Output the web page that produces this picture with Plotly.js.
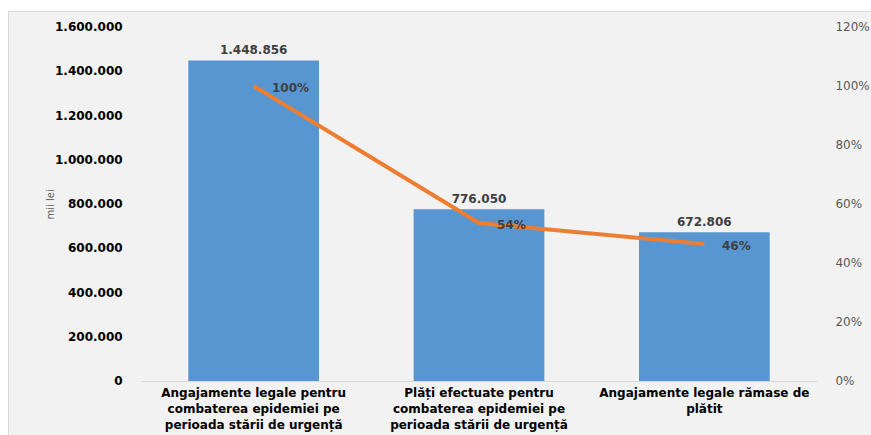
<!DOCTYPE html>
<html><head><meta charset="utf-8">
<script src="https://cdn.plot.ly/plotly-3.0.1.min.js"></script>
<style>
html,body{margin:0;padding:0;background:#fff;width:871px;height:435px;overflow:hidden;}
#chart{position:absolute;left:8px;top:11px;width:863px;height:424px;box-sizing:border-box;border-top:1px solid #d9d9d9;border-left:1px solid #d9d9d9;}
</style></head>
<body>
<div id="chart"></div>
<script>
const categories = [
  "Angajamente legale pentru<br>combaterea epidemiei pe<br>perioada stării de urgență",
  "Plăți efectuate pentru<br>combaterea epidemiei pe<br>perioada stării de urgență",
  "Angajamente legale rămase de<br>plătit"
];
const amounts = [1448856, 776050, 672806];
const shares = [1.0, 0.5356, 0.4644];
const shareLabels = ["100%", "54%", "46%"];
const leftTicks = [0, 200000, 400000, 600000, 800000, 1000000, 1200000, 1400000, 1600000];
const rightTicks = [0, 0.2, 0.4, 0.6, 0.8, 1.0, 1.2];

const font = "DejaVu Sans, Arial, sans-serif";

const bars = {
  type: "bar", x: categories, y: amounts, width: 0.58,
  marker: {color: "#5896d2", line: {width: 0}},
  texttemplate: "%{y:,d}", textposition: "outside", cliponaxis: false,
  textfont: {family: font, size: 12, color: "#404040", weight: "bold"},
  hoverinfo: "none"
};
const line = {
  type: "scatter", mode: "lines", x: categories, y: shares, yaxis: "y2",
  line: {color: "#ed7d31", width: 4}, hoverinfo: "none"
};

const annotations = shares.map((v, i) => ({
  x: categories[i], y: v, xref: "x", yref: "y2", text: "<b>" + shareLabels[i] + "</b>",
  showarrow: false, xanchor: "left", xshift: 16, yshift: -2,
  font: {family: font, size: 12, color: "#404040"}
}));
annotations.push({
  x: -0.145, y: 0.5, xref: "paper", yref: "paper", text: "mii lei", textangle: -90,
  showarrow: false, font: {family: font, size: 10, color: "#595959"}
});

const layout = {
  width: 863, height: 424,
  margin: {l: 132, r: 55, t: 15, b: 55},
  paper_bgcolor: "#f2f2f2", plot_bgcolor: "#f2f2f2",
  separators: ",.",
  showlegend: false,
  xaxis: {
    showline: true, linecolor: "#d9d9d9", linewidth: 1,
    ticks: "outside", ticklen: 1, tickcolor: "rgba(0,0,0,0)",
    tickfont: {family: font, size: 12, color: "#000", weight: "bold"},
    showgrid: false, zeroline: false
  },
  yaxis: {
    range: [0, 1600000], tickvals: leftTicks, tickformat: ",d",
    showgrid: false, zeroline: false, showline: false,
    ticks: "outside", ticklen: 15, tickcolor: "rgba(0,0,0,0)",
    tickfont: {family: font, size: 12, color: "#000", weight: "bold"}
  },
  yaxis2: {
    overlaying: "y", side: "right", range: [0, 1.2], tickvals: rightTicks, tickformat: ".0%",
    showgrid: false, zeroline: false, showline: false,
    ticks: "outside", ticklen: 15, tickcolor: "rgba(0,0,0,0)",
    tickfont: {family: font, size: 12, color: "#595959"}
  },
  annotations: annotations
};

Plotly.newPlot("chart", [bars, line], layout, {staticPlot: true, displayModeBar: false});
</script>
</body></html>
